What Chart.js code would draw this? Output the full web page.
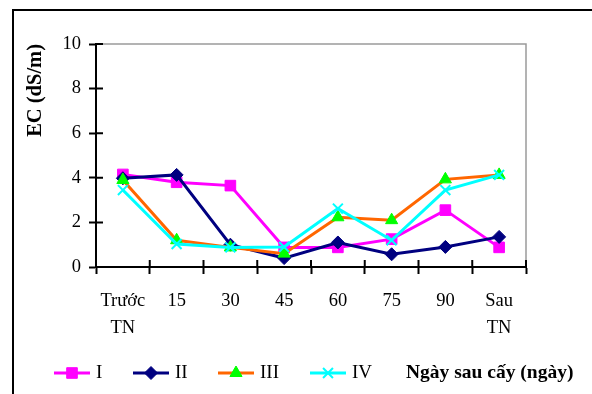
<!DOCTYPE html>
<html>
<head>
<meta charset="utf-8">
<script src="https://cdn.jsdelivr.net/npm/chart.js@4.4.0/dist/chart.umd.min.js"></script>
<style>
  html, body { margin: 0; padding: 0; background: #fff; }
  canvas { display: block; }
</style>
</head>
<body>
<canvas id="ecChart" width="592" height="394" style="width:592px;height:394px"></canvas>
<script>
// data
const categories = [['Trước', 'TN'], '15', '30', '45', '60', '75', '90', ['Sau', 'TN']];
const seriesNames = ['I', 'II', 'III', 'IV'];
const ecI   = [4.15, 3.8, 3.65, 0.88, 0.88, 1.25, 2.55, 0.88];
const ecII  = [3.98, 4.13, 1.0, 0.4, 1.1, 0.57, 0.9, 1.35];
const ecIII = [3.9, 1.2, 0.88, 0.6, 2.23, 2.1, 3.93, 4.13];
const ecIV  = [3.45, 1.03, 0.88, 0.9, 2.62, 1.2, 3.45, 4.13];
const yTicks = [0, 2, 4, 6, 8, 10];
const yTitle = 'EC (dS/m)';
const xTitle = 'Ngày sau cấy (ngày)';

const serif = '"Liberation Serif", "Times New Roman", serif';
const legendX = [54, 133, 218, 310];
const legendY = 373;

function drawMarker(ctx, style, x, y, r, fill, stroke, lw) {
    ctx.save();
    ctx.fillStyle = fill;
    ctx.strokeStyle = stroke;
    ctx.lineWidth = lw;
    ctx.beginPath();
    if (style === 'rect') {
        const s = r * Math.SQRT1_2;
        ctx.rect(x - s, y - s, 2 * s, 2 * s);
    } else if (style === 'rectRot') {
        ctx.moveTo(x, y - r); ctx.lineTo(x + r, y); ctx.lineTo(x, y + r); ctx.lineTo(x - r, y);
        ctx.closePath();
    } else if (style === 'triangle') {
        const c = Math.cos(Math.PI / 6) * r;
        ctx.moveTo(x, y - r); ctx.lineTo(x + c, y + r / 2); ctx.lineTo(x - c, y + r / 2);
        ctx.closePath();
    } else if (style === 'crossRot') {
        const d = r * Math.SQRT1_2;
        ctx.moveTo(x - d, y - d); ctx.lineTo(x + d, y + d);
        ctx.moveTo(x + d, y - d); ctx.lineTo(x - d, y + d);
        ctx.stroke();
        ctx.restore();
        return;
    }
    ctx.fill();
    ctx.stroke();
    ctx.restore();
}

const framePlugin = {
    id: 'frame',
    beforeDraw(chart) {
        const ctx = chart.ctx;
        const a = chart.chartArea;
        ctx.save();
        ctx.fillStyle = '#fff';
        ctx.fillRect(0, 0, chart.width, chart.height);
        // outer frame (top + left)
        ctx.strokeStyle = '#000';
        ctx.lineWidth = 2;
        ctx.beginPath();
        ctx.moveTo(13, chart.height);
        ctx.lineTo(13, 10);
        ctx.lineTo(chart.width, 10);
        ctx.stroke();
        // plot box top/right in grey
        ctx.strokeStyle = '#9a9a9a';
        ctx.lineWidth = 1.5;
        ctx.beginPath();
        ctx.moveTo(a.left, a.top);
        ctx.lineTo(a.right, a.top);
        ctx.lineTo(a.right, a.bottom);
        ctx.stroke();
        ctx.restore();
    },
    beforeDatasetsDraw(chart) {
        // tick marks cross the axes, draw the inside half
        const ctx = chart.ctx;
        const a = chart.chartArea;
        const ys = chart.scales.y;
        ctx.save();
        ctx.strokeStyle = '#000';
        ctx.lineWidth = 2;
        ctx.beginPath();
        ys.ticks.forEach(t => {
            const py = ys.getPixelForValue(t.value);
            ctx.moveTo(a.left, py);
            ctx.lineTo(a.left + 7, py);
        });
        const n = categories.length;
        for (let i = 0; i <= n; i++) {
            const px = a.left + i * (a.right - a.left) / n;
            ctx.moveTo(px, a.bottom);
            ctx.lineTo(px, a.bottom - 7);
        }
        ctx.stroke();
        ctx.restore();
    },
    afterDraw(chart) {
        const ctx = chart.ctx;
        ctx.save();
        chart.data.datasets.forEach((ds, i) => {
            const x0 = legendX[i];
            ctx.strokeStyle = ds.borderColor;
            ctx.lineWidth = 3;
            ctx.beginPath();
            ctx.moveTo(x0, legendY);
            ctx.lineTo(x0 + 36, legendY);
            ctx.stroke();
            drawMarker(ctx, ds.pointStyle, x0 + 18, legendY, ds.pointRadius,
                ds.pointBackgroundColor, ds.pointBorderColor, ds.pointBorderWidth);
            ctx.fillStyle = '#000';
            ctx.font = '19px ' + serif;
            ctx.textBaseline = 'middle';
            ctx.fillText(ds.label, x0 + 42, legendY);
        });
        ctx.font = 'bold 19.5px ' + serif;
        ctx.fillText(xTitle, 406, legendY);
        ctx.restore();
    }
};

new Chart(document.getElementById('ecChart'), {
    type: 'line',
    data: {
        labels: categories,
        datasets: [{
            label: seriesNames[0],
            data: ecI,
            borderColor: '#FF00FF',
            borderWidth: 3,
            pointStyle: 'rect',
            pointRadius: 7.5,
            pointBackgroundColor: '#FF00FF',
            pointBorderColor: '#FF00FF',
            pointBorderWidth: 1,
            order: 4
        }, {
            label: seriesNames[1],
            data: ecII,
            borderColor: '#000080',
            borderWidth: 3,
            pointStyle: 'rectRot',
            pointRadius: 6.5,
            pointBackgroundColor: '#000080',
            pointBorderColor: '#000080',
            pointBorderWidth: 1,
            order: 3
        }, {
            label: seriesNames[2],
            data: ecIII,
            borderColor: '#FF6600',
            borderWidth: 3,
            pointStyle: 'triangle',
            pointRadius: 7,
            pointBackgroundColor: '#00FF00',
            pointBorderColor: '#00FF00',
            pointBorderWidth: 1,
            order: 2
        }, {
            label: seriesNames[3],
            data: ecIV,
            borderColor: '#00FFFF',
            borderWidth: 3,
            pointStyle: 'crossRot',
            pointRadius: 7,
            pointBackgroundColor: '#00FFFF',
            pointBorderColor: '#00FFFF',
            pointBorderWidth: 2,
            order: 1
        }]
    },
    options: {
        responsive: false,
        animation: false,
        layout: { padding: { top: 44, right: 66, left: 0, bottom: 0 } },
        elements: { line: { tension: 0, fill: false } },
        plugins: {
            legend: { display: false },
            tooltip: { enabled: false }
        },
        scales: {
            x: {
                offset: true,
                afterFit(scale) { scale.height = 127; },
                grid: { offset: true, drawOnChartArea: false, tickLength: 7, tickColor: '#000', tickWidth: 2 },
                border: { color: '#000', width: 2 },
                ticks: {
                    color: '#000',
                    font: { family: serif, size: 18.5, lineHeight: 1.5 },
                    padding: 13,
                    maxRotation: 0,
                    autoSkip: false
                }
            },
            y: {
                min: 0,
                max: 10,
                afterFit(scale) { scale.width = 96; },
                afterBuildTicks(scale) { scale.ticks = yTicks.map(v => ({ value: v })); },
                grid: { drawOnChartArea: false, tickLength: 7, tickColor: '#000', tickWidth: 2 },
                border: { color: '#000', width: 2 },
                ticks: {
                    color: '#000',
                    font: { family: serif, size: 18.5 },
                    padding: 8
                },
                title: {
                    display: true,
                    text: yTitle,
                    align: 'end',
                    color: '#000',
                    font: { family: serif, size: 20.5, weight: 'bold' },
                    padding: { top: 23, bottom: 0 }
                }
            }
        }
    },
    plugins: [framePlugin]
});
</script>
</body>
</html>
